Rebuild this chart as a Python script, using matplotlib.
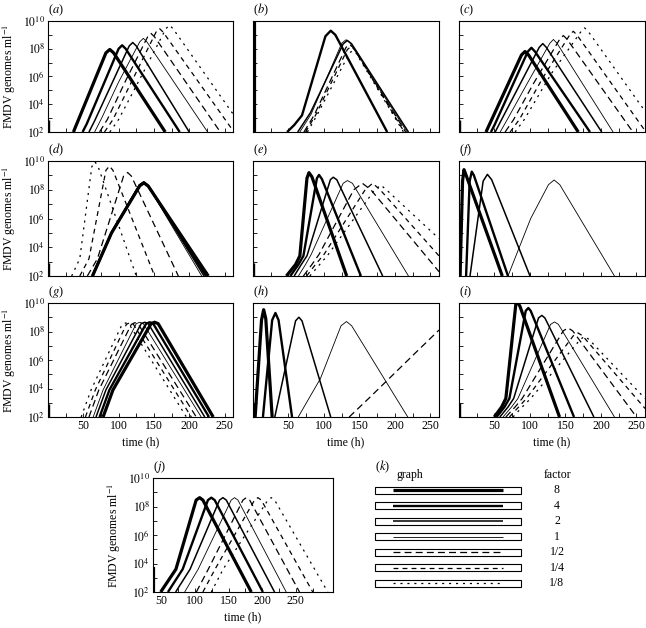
import matplotlib
matplotlib.use('Agg')
import matplotlib.pyplot as plt
import numpy as np
from matplotlib.ticker import FixedLocator, NullFormatter, FuncFormatter
from matplotlib.patches import Rectangle

plt.rcParams['font.family'] = ['Liberation Serif', 'DejaVu Serif']
plt.rcParams['mathtext.fontset'] = 'stix'
plt.rcParams['lines.scale_dashes'] = False

# ---------------- data (time in h, values as log10 genomes/ml) ----------------
FACTORS = ['8', '4', '2', '1', '1/2', '1/4', '1/8']
PANEL_LETTERS = ['a', 'b', 'c', 'd', 'e', 'f', 'g', 'h', 'i', 'j']
X_TICKS = [50, 100, 150, 200, 250]
Y_TICKS = [2, 4, 6, 8, 10]

A_T = [[36, 82, 87.5, 93, 166],
       [49, 55, 100, 105, 110, 186.5],
       [58, 66, 115, 120, 125, 200],
       [66, 76, 100, 130, 135, 140, 226],
       [73, 84, 110, 141, 146, 151, 244],
       [80, 92, 122, 153, 158, 163, 262],
       [87.5, 100, 135, 167, 172, 177, 262]]
A_V = [[2, 7.7, 7.95, 7.7, 2],
       [2, 2.6, 8.0, 8.25, 8.0, 2],
       [2, 2.8, 8.2, 8.45, 8.2, 2],
       [2, 3.0, 5.6, 8.5, 8.75, 8.5, 2],
       [2, 2.9, 5.7, 8.85, 9.1, 8.85, 2],
       [2, 2.9, 6.0, 9.2, 9.45, 9.2, 2.1],
       [2, 2.9, 6.3, 9.45, 9.7, 9.45, 3.3]]

B_T = [[1.5, 1.5],
       [48, 58, 69, 102, 109.5, 116, 189],
       [63, 81, 127, 133, 139, 219],
       [66, 82, 125, 131, 137, 217],
       [71.7, 86, 131, 136, 141, 215],
       [74, 88, 133, 138, 143, 213],
       [76.6, 90, 136, 140.6, 145, 212]]
B_V = [[2, 10],
       [2, 2.5, 3.2, 8.9, 9.3, 9.0, 2],
       [2, 3.4, 8.35, 8.6, 8.35, 2],
       [2, 3.3, 8.4, 8.65, 8.4, 2],
       [2, 3.2, 8.1, 8.3, 8.1, 2],
       [2, 3.2, 7.95, 8.15, 7.95, 2],
       [2, 3.2, 7.7, 7.87, 7.7, 2]]

C_T = [[38, 88, 93, 98, 168],
       [45, 50, 97, 102, 107, 184.5],
       [51, 58, 113, 118, 123, 201],
       [58, 68, 95, 128, 133, 138, 217],
       [65, 77, 105, 142, 147, 152, 245],
       [72, 85, 118, 156, 161, 166, 262],
       [79, 92, 130, 172, 177, 182, 262]]
C_V = [[2, 7.55, 7.8, 7.55, 2],
       [2, 2.5, 7.8, 8.07, 7.8, 2],
       [2, 2.7, 8.1, 8.37, 8.1, 2],
       [2, 2.9, 5.4, 8.4, 8.67, 8.4, 2],
       [2, 2.9, 5.5, 8.7, 8.95, 8.7, 2],
       [2, 2.9, 5.9, 9.0, 9.26, 9.0, 2.1],
       [2, 2.9, 6.2, 9.25, 9.5, 9.25, 3.5]]

D_T = [[63, 90, 130, 136, 142, 227],
       [63, 90, 130, 136, 142, 224],
       [62.5, 90, 129.5, 135.5, 141.5, 221],
       [62, 89, 129, 135, 141, 217.7],
       [55.7, 70, 107, 112.8, 118, 184.6],
       [45, 58, 82, 87, 92, 151],
       [33.5, 45, 62, 66.5, 71, 125]]
D_V = [[2, 5.0, 8.28, 8.48, 8.25, 2],
       [2, 5.0, 8.3, 8.5, 8.27, 2],
       [2, 5.0, 8.32, 8.52, 8.3, 2],
       [2, 5.0, 8.35, 8.56, 8.33, 2],
       [2, 3.2, 8.95, 9.2, 8.95, 2],
       [2, 3.2, 9.35, 9.65, 9.35, 2],
       [2, 3.2, 9.6, 9.95, 9.6, 2]]

E_T = [[47, 60, 66, 76, 78.8, 83, 132],
       [52.6, 64, 71, 90, 93, 97, 152],
       [58, 68, 76, 109, 113, 118, 182.7],
       [64, 74, 82, 127, 133, 140, 219],
       [71, 83, 93, 142, 154, 166, 262],
       [75.5, 88, 100, 158, 168.5, 179, 262],
       [80, 94, 106, 170, 180, 190, 262]]
E_V = [[2, 2.8, 3.4, 8.8, 9.19, 8.9, 2],
       [2, 2.8, 3.4, 8.8, 9.03, 8.75, 2],
       [2, 2.8, 3.4, 8.7, 8.87, 8.7, 2],
       [2, 2.8, 3.5, 8.45, 8.64, 8.45, 2],
       [2, 2.8, 3.5, 8.0, 8.45, 8.0, 2.3],
       [2, 2.8, 3.5, 8.0, 8.45, 8.0, 3.4],
       [2, 2.8, 3.5, 7.9, 8.33, 7.9, 4.6]]

F_T = [[1.5, 5, 7, 9, 61],
       [10, 15, 18, 21, 69],
       [15.5, 34, 40, 46, 100],
       [69, 101, 126, 134, 142, 219],
       None, None, None]
F_V = [[2, 8.6, 9.4, 9.15, 2],
       [2, 8.6, 9.26, 9.0, 2],
       [2, 8.6, 9.07, 8.7, 2],
       [2, 6.0, 8.35, 8.68, 8.35, 2],
       None, None, None]

G_T = [[78, 92, 146, 151, 156, 234],
       [73, 87, 139, 144, 149, 228],
       [68, 82, 132, 137, 142, 222],
       [64, 78, 125, 130, 135, 217],
       [58, 72, 118, 123, 128, 210],
       [53, 67, 111, 116, 121, 203],
       [47, 61, 105, 110, 115, 196]]
G_V = [[2, 3.9, 8.55, 8.65, 8.55, 2],
       [2, 3.9, 8.55, 8.65, 8.55, 2],
       [2, 3.9, 8.55, 8.65, 8.55, 2],
       [2, 3.9, 8.55, 8.65, 8.55, 2],
       [2, 3.9, 8.5, 8.62, 8.5, 2],
       [2, 3.9, 8.5, 8.62, 8.5, 2],
       [2, 3.9, 8.5, 8.6, 8.5, 2]]

H_T = [[3, 12, 15, 18, 27],
       [14, 27, 31.6, 36, 55],
       [30.7, 45, 60, 64.6, 69, 109.5],
       [63.7, 95, 124, 131.7, 139, 218],
       [135.5, 165, 200, 235, 262],
       None, None]
H_V = [[2, 8.8, 9.53, 8.9, 2],
       [2, 8.8, 9.3, 8.8, 2],
       [2, 5.3, 8.75, 9.0, 8.75, 2],
       [2, 4.7, 8.4, 8.7, 8.4, 2],
       [2, 3.4, 5.1, 6.8, 8.1],
       None, None]

I_T = [[49.6, 60, 66, 80, 82.6, 86, 141.6],
       [53, 64, 71, 94, 97.7, 101, 162],
       [57.5, 69, 77, 112, 116.7, 121, 190],
       [62, 74, 83, 129, 134.6, 140, 219],
       [66, 79, 89, 147, 153.5, 160, 250],
       [71, 84, 95, 161, 167.7, 174, 262],
       [76, 89, 101, 171, 177, 183, 262]]
I_V = [[2, 2.7, 3.3, 9.9, 10.05, 9.75, 2],
       [2, 2.7, 3.3, 9.45, 9.65, 9.45, 2],
       [2, 2.7, 3.3, 8.95, 9.13, 8.95, 2],
       [2, 2.7, 3.3, 8.5, 8.67, 8.5, 2],
       [2, 2.7, 3.3, 8.05, 8.25, 8.05, 2],
       [2, 2.7, 3.3, 7.7, 7.9, 7.7, 2.6],
       [2, 2.7, 3.3, 7.45, 7.66, 7.45, 3.3]]

J_T = [[49.4, 72, 102, 107.2, 112, 183.8],
       [60.2, 82, 119.5, 124.5, 129.5, 201],
       [71.6, 93, 136.7, 141.7, 146.7, 218.3],
       [85, 105, 154, 159, 164, 235.6],
       [102.3, 120, 171.4, 176.4, 181.4, 255.3],
       [112, 130, 188.6, 193.6, 198.6, 275],
       [124.5, 142, 208.4, 213.4, 218.4, 297.3]]
J_V = [[2, 3.6, 8.45, 8.62, 8.45, 2],
       [2, 3.6, 8.45, 8.62, 8.45, 2],
       [2, 3.6, 8.45, 8.62, 8.45, 2],
       [2, 3.6, 8.45, 8.62, 8.45, 2],
       [2, 3.6, 8.45, 8.62, 8.45, 2],
       [2, 3.6, 8.45, 8.62, 8.45, 2],
       [2, 3.6, 8.45, 8.62, 8.45, 2]]

# inoculum spike at the start of each run (log10 height), None = none drawn
SPIKE_T = [1.5, None, 1.5, 1.5, 1.5, 1.5, 1.5, 1.5, 1.5, 39.5]
SPIKE_V = [2.9, None, 2.9, 2.9, 2.9, 2.9, 2.9, 3.0, 3.0, 3.75]

PANEL_T = [A_T, B_T, C_T, D_T, E_T, F_T, G_T, H_T, I_T, J_T]
PANEL_V = [A_V, B_V, C_V, D_V, E_V, F_V, G_V, H_V, I_V, J_V]

# ---------------- styles ----------------
STYLES = [dict(lw=2.3, ls='-'),
          dict(lw=1.7, ls='-'),
          dict(lw=1.1, ls='-'),
          dict(lw=0.6, ls='-'),
          dict(lw=0.9, ls=(0, (5, 3))),
          dict(lw=0.9, ls=(0, (3.5, 3))),
          dict(lw=0.9, ls=(0, (1.5, 3.5)))]

W, H = 646, 628
fig = plt.figure(figsize=(W / 100, H / 100), dpi=100)


def add_ax(l, t, r, b):
    return fig.add_axes([l / W, 1 - b / H, (r - l) / W, (b - t) / H])


COLS = [(48, 233), (253, 439), (459, 645)]
ROWS = [(21, 132), (161, 276), (303, 417)]
boxes = []
for ri in range(3):
    for ci in range(3):
        boxes.append((COLS[ci][0], ROWS[ri][0], COLS[ci][1], ROWS[ri][1]))
boxes.append((153, 478, 333, 592))

FS = 8.5
yfmt = FuncFormatter(lambda v, p: r'$10^{%d}$' % int(round(np.log10(v))))

for k, letter in enumerate(PANEL_LETTERS):
    l, t, r, b = boxes[k]
    ax = add_ax(l, t, r, b)
    ts, vs = PANEL_T[k], PANEL_V[k]
    for fi in range(len(FACTORS)):
        if ts[fi] is None:
            continue
        ax.plot(ts[fi], 10.0 ** np.array(vs[fi]), color='black',
                solid_capstyle='butt', dash_capstyle='butt', **STYLES[fi])
    if SPIKE_T[k] is not None:
        ax.plot([SPIKE_T[k], SPIKE_T[k]], [1e2, 10.0 ** SPIKE_V[k]],
                color='black', lw=1.0 if k < 9 else 1.6, solid_capstyle='butt')
    ax.set_yscale('log')
    ax.set_ylim(1e2, 1e10)
    if k < 9:
        ax.set_xlim(0, 262)
    else:
        ax.set_xlim(38, 305)
    ax.xaxis.set_major_locator(FixedLocator(X_TICKS))
    ax.xaxis.set_minor_locator(FixedLocator([25, 75, 125, 175, 225, 275]))
    ax.yaxis.set_major_locator(FixedLocator([10.0 ** e for e in Y_TICKS]))
    ax.yaxis.set_minor_locator(FixedLocator([10.0 ** e for e in (3, 5, 7, 9)]))
    ax.yaxis.set_major_formatter(yfmt)
    ax.yaxis.set_minor_formatter(NullFormatter())
    ax.tick_params(which='both', direction='in', length=3, width=0.6,
                   top=False, right=False, labelsize=FS, pad=2)
    for sp in ax.spines.values():
        sp.set_linewidth(0.8)
    show_y = k in (0, 3, 6, 9)
    show_x = k in (6, 7, 8, 9)
    ax.tick_params(labelleft=show_y, labelbottom=show_x)
    if show_x:
        ax.set_xlabel('time (h)', fontsize=FS, labelpad=3)
    if show_y:
        ax.set_ylabel(r'FMDV genomes ml$^{-1}$', fontsize=FS, labelpad=4)
    ax.annotate('(' + r'$\mathit{%s}$' % letter + ')', xy=(0, 1), xycoords='axes fraction',
                xytext=(0, 2), textcoords='offset points', ha='left', va='bottom',
                fontsize=9)

# ---------------- legend panel (k) ----------------
axk = fig.add_axes([360 / W, 1 - 628 / H, 286 / W, 178 / H])
axk.set_xlim(0, 286)
axk.set_ylim(178, 0)
axk.axis('off')
axk.text(15, 17, '(' + r'$\mathit{k}$' + ')', fontsize=9, ha='left', va='center')
axk.text(50, 25, 'graph', fontsize=FS, ha='center', va='center')
axk.text(197, 25, 'factor', fontsize=FS, ha='center', va='center')
row_y = np.linspace(40, 133.3, len(FACTORS))
for fi, fac in enumerate(FACTORS):
    y = row_y[fi]
    axk.add_patch(Rectangle((15, y - 3.5), 146, 7, fill=False, lw=0.8, edgecolor='black'))
    axk.plot([33, 143], [y, y], color='black', solid_capstyle='butt',
             dash_capstyle='butt', **STYLES[fi])
    axk.text(197, y, fac, fontsize=FS, ha='center', va='center')

fig.savefig('out.png', dpi=100)
